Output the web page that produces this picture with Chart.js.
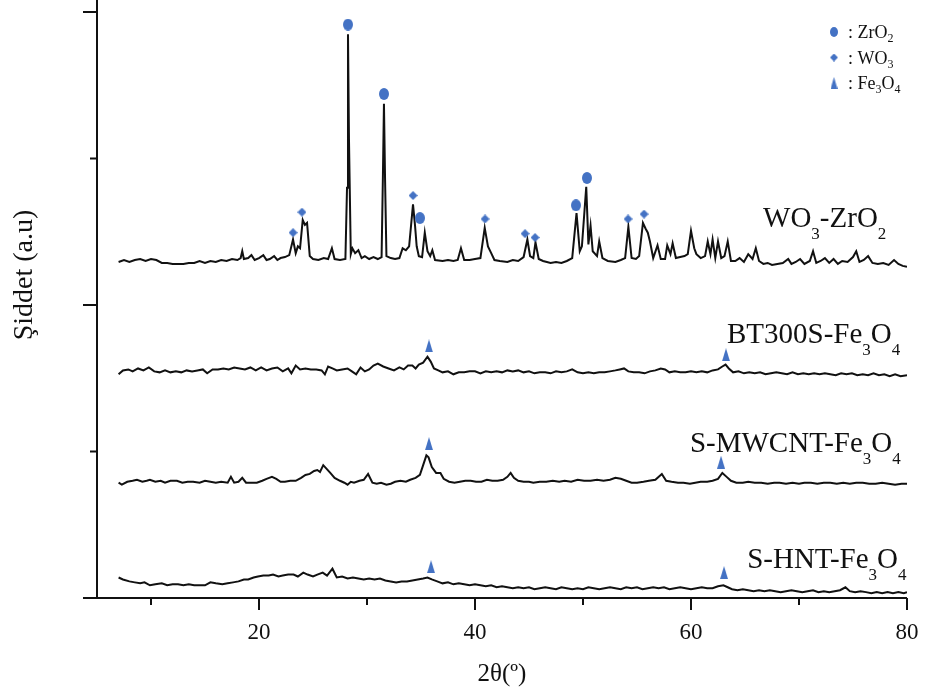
<!DOCTYPE html>
<html>
<head>
<meta charset="utf-8">
<title>XRD desenleri</title>
<script src="https://cdn.jsdelivr.net/npm/chart.js@4.4.1/dist/chart.umd.min.js"></script>
<style>
html, body { margin: 0; padding: 0; background: #fff; }
#wrap { width: 927px; height: 699px; }
</style>
</head>
<body>
<div id="wrap"><canvas id="xrd" width="927" height="699"></canvas></div>
<script>
/**** XRD patterns, stacked (2theta, intensity a.u.) ****/

var xTickValues = [10, 20, 30, 40, 50, 60, 70, 80];
var yTickValues = [0, 150, 300, 450, 600];

var wo3ZrO2 = [
  [7.0,344],[7.5,346],[8.0,344],[8.5,346],[9.0,347],[9.5,345],[10.0,347],[10.5,346],[11.0,343],[11.5,343],
  [12.0,342],[12.5,342],[13.0,342],[13.5,343],[14.0,343],[14.5,345],[15.0,343],[15.5,345],[16.0,344],[16.5,346],
  [17.0,345],[17.5,347],[18.0,346],[18.3,348],[18.45,355],[18.6,347],[19.0,348],[19.3,351],[19.6,346],[20.0,348],
  [20.4,351],[20.7,346],[21.0,347],[21.4,350],[21.7,346],[22.0,348],[22.4,349],[22.8,351],[23.15,367],[23.4,353],
  [23.6,360],[23.8,358],[24.05,387],[24.25,382],[24.45,384],[24.7,350],[25.0,347],[25.5,346],[26.0,348],[26.4,347],
  [26.75,358],[27.0,347],[27.5,346],[28.0,347],[28.15,420],[28.24,577],[28.33,470],[28.5,352],[28.65,358],[28.9,353],
  [29.2,356],[29.5,348],[29.8,350],[30.2,347],[30.6,349],[31.0,347],[31.35,349],[31.47,430],[31.57,506],[31.67,430],
  [31.8,350],[32.2,348],[32.6,347],[33.0,348],[33.3,358],[33.6,356],[33.9,360],[34.26,403],[34.45,381],[34.6,360],
  [34.8,350],[35.1,349],[35.35,374],[35.6,355],[35.85,350],[36.05,356],[36.3,346],[37.0,345],[37.5,346],[38.0,345],
  [38.4,346],[38.7,358],[39.0,346],[39.5,346],[40.0,347],[40.5,348],[40.9,379],[41.2,360],[41.5,353],[41.8,346],
  [42.3,345],[43.0,344],[43.5,346],[44.0,345],[44.5,349],[44.85,367],[45.1,350],[45.4,348],[45.6,364],[45.9,347],
  [46.3,345],[47.0,343],[47.5,344],[48.0,343],[48.5,345],[49.0,348],[49.4,394],[49.7,355],[49.9,360],[50.3,421],
  [50.5,362],[50.7,381],[50.9,355],[51.3,350],[51.5,365],[51.8,348],[52.3,345],[53.0,344],[53.5,346],[53.9,348],
  [54.2,380],[54.5,348],[54.9,347],[55.2,350],[55.55,384],[55.8,378],[56.0,374],[56.2,365],[56.5,348],[56.9,361],
  [57.2,347],[57.6,347],[57.8,361],[58.1,352],[58.3,363],[58.6,348],[59.0,349],[59.4,350],[59.7,352],[60.0,376],
  [60.3,358],[60.5,352],[60.9,348],[61.3,350],[61.55,365],[61.8,352],[62.0,367],[62.25,348],[62.5,365],[62.8,348],
  [63.1,350],[63.4,365],[63.7,345],[64.1,345],[64.5,348],[64.9,344],[65.3,352],[65.7,347],[66.0,358],[66.3,345],
  [66.7,342],[67.1,343],[67.5,341],[68.0,342],[68.5,343],[69.0,347],[69.3,342],[69.7,344],[70.1,347],[70.5,342],
  [71.0,345],[71.3,355],[71.6,343],[72.0,345],[72.4,348],[72.8,343],[73.2,347],[73.6,342],[74.0,345],[74.5,344],
  [75.0,349],[75.3,355],[75.6,344],[76.0,346],[76.4,350],[76.8,343],[77.3,342],[77.8,343],[78.3,341],[78.8,346],
  [79.2,342],[79.6,340],[80.0,339]
];

var bt300sFe3O4 = [
  [7.0,229],[7.4,233],[7.9,234],[8.3,232],[8.8,235],[9.3,233],[9.8,236],[10.3,232],[10.8,231],[11.3,233],
  [11.8,231],[12.3,232],[12.8,231],[13.3,233],[13.8,232],[14.3,233],[14.8,234],[15.2,230],[15.7,234],[16.2,234],
  [16.7,235],[17.2,234],[17.7,236],[18.2,235],[18.7,234],[19.2,236],[19.7,233],[20.2,236],[20.7,233],[21.2,235],
  [21.7,236],[22.2,232],[22.7,235],[23.0,230],[23.4,238],[23.8,234],[24.3,235],[24.8,234],[25.3,234],[25.8,233],
  [26.1,229],[26.4,237],[26.8,235],[27.2,233],[27.7,234],[28.2,235],[28.6,232],[29.0,229],[29.4,236],[29.8,232],
  [30.2,234],[30.6,238],[31.0,240],[31.5,237],[32.0,235],[32.5,233],[33.0,236],[33.4,234],[33.8,238],[34.2,238],
  [34.5,235],[34.8,239],[35.2,241],[35.6,247],[35.9,242],[36.2,235],[36.6,233],[37.0,231],[37.5,232],[38.0,229],
  [38.5,231],[39.0,231],[39.5,232],[40.0,232],[40.5,230],[41.0,232],[41.5,231],[42.0,232],[42.5,231],[43.0,233],
  [43.5,232],[44.0,233],[44.5,231],[45.0,232],[45.5,230],[46.0,231],[46.5,231],[47.0,230],[47.5,232],[48.0,231],
  [48.5,232],[49.0,234],[49.5,231],[50.0,230],[50.5,231],[51.0,230],[51.5,231],[52.0,231],[52.5,232],[53.0,233],
  [53.4,234],[53.8,235],[54.2,232],[54.7,231],[55.2,231],[55.7,230],[56.2,232],[56.7,233],[57.2,235],[57.6,234],
  [58.0,231],[58.5,232],[59.0,231],[59.5,231],[60.0,232],[60.5,231],[61.0,232],[61.5,231],[62.0,233],[62.5,234],
  [62.9,237],[63.2,239],[63.5,235],[63.9,231],[64.4,232],[64.9,230],[65.4,231],[65.9,230],[66.4,231],[66.9,229],
  [67.4,230],[67.9,231],[68.4,230],[68.9,229],[69.4,231],[69.9,229],[70.4,230],[70.9,229],[71.4,230],[71.9,229],
  [72.4,230],[72.9,229],[73.4,228],[73.9,230],[74.4,229],[74.9,230],[75.4,228],[75.9,229],[76.4,228],[76.9,230],
  [77.4,228],[77.9,229],[78.4,227],[78.9,229],[79.4,227],[80.0,228]
];

var mwcntFe3O4 = [
  [7.0,118],[7.3,116],[7.8,119],[8.3,120],[8.7,121],[9.2,119],[9.6,120],[9.9,121],[10.4,119],[10.9,120],
  [11.3,118],[11.8,120],[12.4,120],[12.9,118],[13.4,119],[13.9,119],[14.5,118],[15.0,120],[15.5,119],[16.0,118],
  [16.5,119],[17.1,118],[17.4,124],[17.7,118],[18.1,119],[18.45,123],[18.8,118],[19.3,118],[19.8,118],[20.3,120],
  [20.7,122],[21.2,124],[21.6,122],[22.0,119],[22.4,119],[22.9,120],[23.4,120],[23.9,123],[24.3,126],[24.7,127],
  [25.1,130],[25.4,131],[25.65,129],[25.95,136],[26.2,133],[26.6,128],[27.0,123],[27.5,120],[27.9,118],[28.2,116],
  [28.5,119],[28.8,118],[29.3,120],[29.7,121],[30.1,127],[30.5,118],[30.9,117],[31.3,118],[31.8,116],[32.2,117],
  [32.6,119],[33.1,120],[33.6,119],[34.0,121],[34.5,123],[34.9,126],[35.2,136],[35.5,146],[35.7,144],[36.0,134],
  [36.4,128],[36.8,128],[37.1,122],[37.6,119],[38.1,118],[38.6,119],[39.1,120],[39.6,120],[40.1,119],[40.6,119],
  [41.1,121],[41.6,120],[42.1,120],[42.6,121],[43.0,124],[43.3,128],[43.6,123],[44.0,120],[44.5,119],[45.0,119],
  [45.4,118],[46.0,119],[46.6,119],[47.2,120],[47.8,119],[48.3,120],[48.9,119],[49.5,121],[50.1,120],[50.7,120],
  [51.3,121],[51.9,120],[52.5,121],[53.0,123],[53.5,122],[54.0,120],[54.5,118],[55.0,118],[55.6,119],[56.1,120],
  [56.7,121],[57.3,127],[57.7,120],[58.2,119],[58.8,118],[59.3,118],[59.9,117],[60.4,118],[60.9,119],[61.5,119],
  [62.0,120],[62.5,122],[62.9,128],[63.3,124],[63.7,120],[64.2,118],[64.8,118],[65.3,119],[65.9,118],[66.5,118],
  [67.1,117],[67.7,118],[68.2,118],[68.8,117],[69.4,118],[70.0,117],[70.5,118],[71.1,118],[71.7,117],[72.3,118],
  [72.9,118],[73.5,117],[74.1,118],[74.7,117],[75.3,118],[75.9,118],[76.5,117],[77.1,117],[77.7,118],[78.3,117],
  [78.9,116],[79.5,117],[80.0,117]
];

var hntFe3O4 = [
  [7.0,21],[7.4,19],[8.0,17],[8.5,16],[9.0,15],[9.4,16],[9.9,13],[10.4,14],[11.0,15],[11.5,13],
  [12.0,14],[12.5,14],[13.0,13],[13.5,14],[14.0,13],[14.5,13],[15.0,13],[15.5,16],[16.0,15],[16.6,14],
  [17.1,15],[17.6,16],[18.1,17],[18.6,19],[19.0,19],[19.5,21],[19.9,22],[20.4,23],[20.9,23],[21.3,24],
  [21.8,22],[22.2,23],[22.7,24],[23.2,24],[23.6,22],[24.1,26],[24.5,24],[25.0,22],[25.4,24],[25.9,26],
  [26.3,23],[26.8,30],[27.2,21],[27.7,22],[28.2,20],[28.7,21],[29.2,20],[29.7,19],[30.2,20],[30.7,19],
  [31.2,20],[31.7,18],[32.2,17],[32.7,16],[33.2,17],[33.7,17],[34.2,18],[34.7,19],[35.2,20],[35.6,21],
  [36.0,19],[36.5,17],[37.0,15],[37.5,16],[38.0,14],[38.5,15],[39.0,14],[39.5,13],[40.0,14],[40.5,13],
  [41.0,12],[41.5,13],[42.0,11],[42.5,12],[43.0,11],[43.5,10],[44.0,11],[44.5,10],[45.0,11],[45.5,9],
  [46.0,10],[46.5,11],[47.0,10],[47.5,9],[48.0,11],[48.5,10],[49.0,9],[49.5,10],[50.0,9],[50.5,11],
  [51.0,10],[51.5,9],[52.0,10],[52.5,11],[53.0,10],[53.5,9],[54.0,11],[54.5,10],[55.0,11],[55.5,9],
  [56.0,10],[56.5,11],[57.0,10],[57.5,11],[58.0,9],[58.5,10],[59.0,11],[59.5,10],[60.0,9],[60.5,10],
  [61.0,11],[61.5,10],[62.0,10],[62.5,12],[63.0,13],[63.4,11],[63.8,9],[64.3,8],[64.8,9],[65.3,8],
  [65.8,7],[66.3,8],[66.8,7],[67.3,8],[67.8,7],[68.3,6],[68.8,7],[69.3,8],[69.8,7],[70.3,6],
  [70.8,7],[71.3,8],[71.8,6],[72.3,7],[72.8,6],[73.3,7],[73.8,8],[74.3,11],[74.7,7],[75.2,6],
  [75.7,7],[76.2,6],[76.7,5],[77.2,6],[77.7,5],[78.2,6],[78.7,5],[79.2,6],[79.7,5],[80.0,6]
];

// phase markers above the peaks
var zro2Peaks = [[28.24,587],[31.57,516],[34.9,389],[49.35,402],[50.37,430]];
var wo3Peaks = [[23.15,374],[23.98,395],[34.26,412],[40.93,388],[44.63,373],[45.56,369],[54.17,388],[55.65,393]];
var fe3o4Peaks = [[35.74,258],[63.24,249],[35.74,158],[62.78,139],[35.93,32],[63.06,26]];

// text pieces, second item 1 = subscript
var sampleNames = [
  [['WO',0],['3',1],['-ZrO',0],['2',1]],
  [['BT300S-Fe',0],['3',1],['O',0],['4',1]],
  [['S-MWCNT-Fe',0],['3',1],['O',0],['4',1]],
  [['S-HNT-Fe',0],['3',1],['O',0],['4',1]]
];
var phaseNames = [
  [[': ZrO',0],['2',1]],
  [[': WO',0],['3',1]],
  [[': Fe',0],['3',1],['O',0],['4',1]]
];

var FONT = '"Liberation Serif", "Times New Roman", serif';
var BLUE = '#4472C4';

function toXY(arr) {
    return arr.map(function(p) { return { x: p[0], y: p[1] }; });
}

// small canvases used as point styles
function markerCanvas(kind, w, h) {
    var c = document.createElement('canvas');
    c.width = w; c.height = h;
    var g = c.getContext('2d');
    g.fillStyle = BLUE;
    g.beginPath();
    if (kind === 'circle') {
        g.ellipse(w / 2, h / 2, w / 2, h / 2, 0, 0, Math.PI * 2);
    } else if (kind === 'diamond') {
        g.moveTo(w / 2, 0); g.lineTo(w, h / 2); g.lineTo(w / 2, h); g.lineTo(0, h / 2);
    } else {
        g.moveTo(w / 2, 0); g.lineTo(w, h); g.lineTo(0, h);
    }
    g.closePath();
    g.fill();
    return c;
}
var circleMark = markerCanvas('circle', 10, 12);
var diamondMark = markerCanvas('diamond', 9, 9);
var triMark = markerCanvas('tri', 8, 13);
var keyMarks = [markerCanvas('circle', 8, 10), markerCanvas('diamond', 8, 8), markerCanvas('tri', 7, 12)];

function drawRich(ctx, segs, x, y, size, subSize, subDrop) {
    var cx = x;
    segs.forEach(function(s) {
        ctx.font = (s[1] ? subSize : size) + 'px ' + FONT;
        ctx.fillText(s[0], cx, s[1] ? y + subDrop : y);
        cx += ctx.measureText(s[0]).width;
    });
}

//**** axes, ticks, labels and the phase key
var decor = {
    id: 'decor',
    afterDraw: function(chart) {
        var ctx = chart.ctx, a = chart.chartArea;
        var xs = chart.scales.x, ys = chart.scales.y;
        ctx.save();
        ctx.strokeStyle = '#111';
        ctx.lineWidth = 2;
        ctx.beginPath();
        ctx.moveTo(a.left, 0); ctx.lineTo(a.left, a.bottom);
        ctx.moveTo(a.left, a.bottom); ctx.lineTo(a.right, a.bottom);
        xs.ticks.forEach(function(t) {
            var px = xs.getPixelForValue(t.value);
            var len = t.value % 20 === 0 ? 12 : 7;
            ctx.moveTo(px, a.bottom); ctx.lineTo(px, a.bottom + len);
        });
        ys.ticks.forEach(function(t) {
            var py = ys.getPixelForValue(t.value);
            var len = t.value % 300 === 0 ? 14 : 7;
            ctx.moveTo(a.left, py); ctx.lineTo(a.left - len, py);
        });
        ctx.stroke();

        ctx.fillStyle = '#111';
        ctx.textBaseline = 'alphabetic';
        ctx.textAlign = 'left';

        // sample names next to each pattern
        var spots = [[66.67, 380], [63.33, 261], [59.9, 149], [65.2, 31]];
        sampleNames.forEach(function(n, i) {
            drawRich(ctx, n, xs.getPixelForValue(spots[i][0]), ys.getPixelForValue(spots[i][1]), 29, 17, 12);
        });

        // phase key
        phaseNames.forEach(function(n, i) {
            var cy = 32 + i * 25.5;
            var m = keyMarks[i];
            ctx.drawImage(m, 834 - m.width / 2, cy - m.height / 2);
            drawRich(ctx, n, 848, cy + 6, 18, 12, 4);
        });

        // y title
        ctx.translate(25, 275);
        ctx.rotate(-Math.PI / 2);
        ctx.textAlign = 'center';
        ctx.textBaseline = 'middle';
        ctx.font = '28px ' + FONT;
        ctx.fillText('Şiddet (a.u)', 0, 0);
        ctx.restore();
    }
};

Chart.defaults.font.family = FONT;
Chart.defaults.color = '#111';

function lineSet(arr) {
    return {
        type: 'line',
        data: toXY(arr),
        borderColor: '#111',
        borderWidth: 2,
        pointRadius: 0,
        tension: 0,
        order: 1
    };
}
function markSet(arr, style) {
    return {
        type: 'scatter',
        data: toXY(arr),
        pointStyle: style,
        pointRadius: 6,
        backgroundColor: BLUE,
        borderColor: BLUE,
        order: 0
    };
}

var xrdChart = new Chart(document.getElementById('xrd'), {
    type: 'line',
    data: {
        datasets: [
            lineSet(wo3ZrO2),
            lineSet(bt300sFe3O4),
            lineSet(mwcntFe3O4),
            lineSet(hntFe3O4),
            markSet(zro2Peaks, circleMark),
            markSet(wo3Peaks, diamondMark),
            markSet(fe3o4Peaks, triMark)
        ]
    },
    options: {
        responsive: false,
        devicePixelRatio: 1,
        animation: false,
        layout: { padding: { top: 5, right: 20, left: 0, bottom: 0 } },
        plugins: { legend: { display: false }, tooltip: { enabled: false } },
        scales: {
            x: {
                type: 'linear',
                min: 5,
                max: 80,
                afterBuildTicks: function(s) { s.ticks = xTickValues.map(function(v) { return { value: v }; }); },
                afterFit: function(s) { s.height = 101; s.paddingLeft = 0; s.paddingRight = 0; },
                grid: { display: false, drawTicks: false },
                border: { display: false },
                ticks: {
                    padding: 21,
                    maxRotation: 0,
                    autoSkip: false,
                    font: { size: 23 },
                    callback: function(v) { return v % 20 === 0 ? String(v) : ''; }
                },
                title: { display: true, text: '2θ(º)', font: { size: 25 }, padding: { top: 0, bottom: 10 } }
            },
            y: {
                type: 'linear',
                min: 0,
                max: 605,
                afterBuildTicks: function(s) { s.ticks = yTickValues.map(function(v) { return { value: v }; }); },
                afterFit: function(s) { s.width = 97; },
                grid: { display: false, drawTicks: false },
                border: { display: false },
                ticks: { display: false }
            }
        }
    },
    plugins: [decor]
});
</script>
</body>
</html>
